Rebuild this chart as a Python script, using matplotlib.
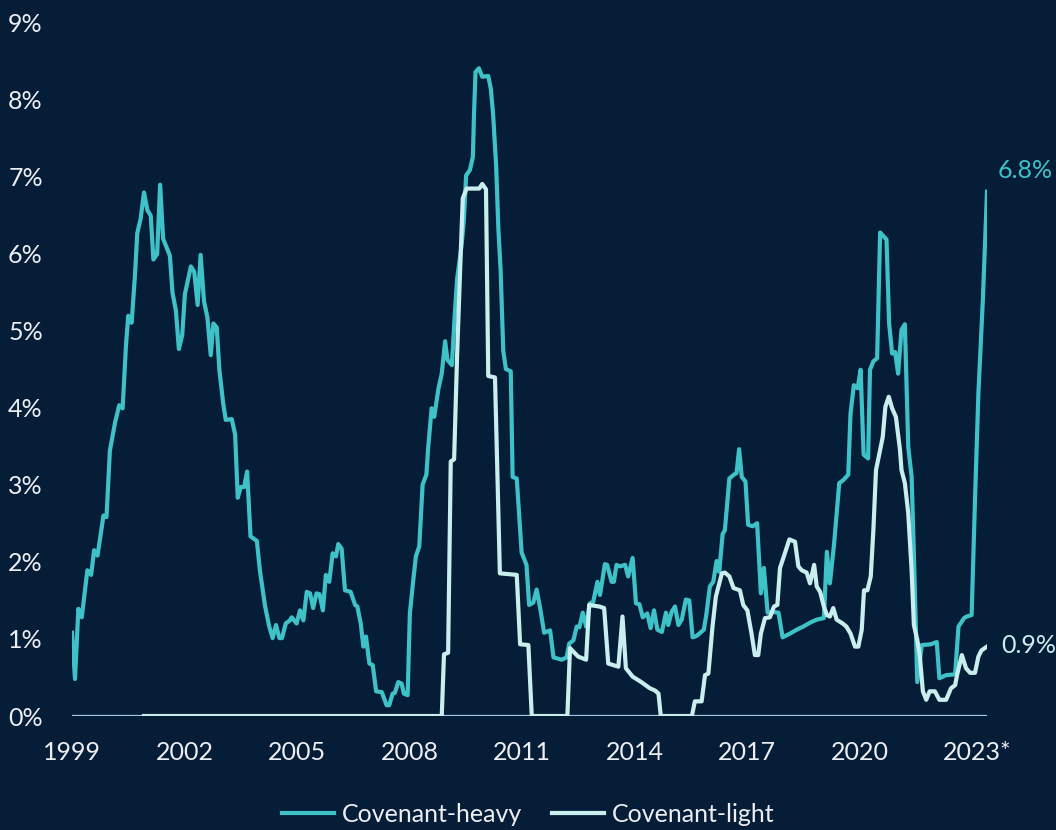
"""Default rates of covenant-heavy vs covenant-light leveraged loans, 1999-2023."""

import matplotlib

matplotlib.use("Agg")
import matplotlib.pyplot as plt
import matplotlib.transforms as mtransforms

BG = "#061d38"
HEAVY_COLOR = "#3fc1c8"
LIGHT_COLOR = "#c9eeee"
BASE_COLOR = "#a9c6e4"
TEXT_COLOR = "#eceef2"
FONT_SIZE = 18

plt.rcParams["font.family"] = ["Lato", "DejaVu Sans"]

# Covenant-heavy default rate (%), by fractional year
heavy_years = [
    1999.00, 1999.08, 1999.17, 1999.26, 1999.41, 1999.51, 1999.59, 1999.68,
    1999.84, 1999.92, 2000.01, 2000.15, 2000.26, 2000.35, 2000.44, 2000.50,
    2000.59, 2000.68, 2000.74, 2000.83, 2000.92, 2001.01, 2001.10, 2001.17,
    2001.27, 2001.35, 2001.43, 2001.61, 2001.68, 2001.77, 2001.85, 2001.94,
    2002.01, 2002.17, 2002.26, 2002.35, 2002.43, 2002.52, 2002.61, 2002.70,
    2002.77, 2002.86, 2002.93, 2003.03, 2003.10, 2003.26, 2003.35, 2003.42,
    2003.50, 2003.59, 2003.67, 2003.76, 2003.93, 2004.01, 2004.15, 2004.26,
    2004.35, 2004.44, 2004.53, 2004.60, 2004.70, 2004.81, 2004.86, 2004.99,
    2005.08, 2005.17, 2005.26, 2005.35, 2005.43, 2005.52, 2005.60, 2005.69,
    2005.77, 2005.86, 2005.95, 2006.04, 2006.10, 2006.19, 2006.28, 2006.43,
    2006.55, 2006.61, 2006.70, 2006.77, 2006.84, 2006.93, 2007.02, 2007.11,
    2007.26, 2007.39, 2007.46, 2007.55, 2007.61, 2007.70, 2007.79, 2007.85,
    2007.95, 2008.01, 2008.10, 2008.17, 2008.26, 2008.35, 2008.45, 2008.50,
    2008.59, 2008.66, 2008.77, 2008.86, 2008.95, 2009.01, 2009.13, 2009.21,
    2009.27, 2009.39, 2009.45, 2009.51, 2009.61, 2009.69, 2009.72, 2009.76,
    2009.85, 2009.94, 2010.10, 2010.17, 2010.23, 2010.31, 2010.37, 2010.43,
    2010.50, 2010.57, 2010.70, 2010.75, 2010.86, 2010.99, 2011.12, 2011.19,
    2011.30, 2011.39, 2011.48, 2011.59, 2011.75, 2011.84, 2012.06, 2012.19,
    2012.26, 2012.37, 2012.46, 2012.53, 2012.62, 2012.71, 2012.81, 2012.90,
    2013.01, 2013.08, 2013.21, 2013.27, 2013.39, 2013.45, 2013.52, 2013.61,
    2013.75, 2013.83, 2013.95, 2014.04, 2014.13, 2014.22, 2014.34, 2014.43,
    2014.52, 2014.61, 2014.73, 2014.84, 2014.90, 2014.99, 2015.08, 2015.17,
    2015.26, 2015.37, 2015.46, 2015.55, 2015.66, 2015.85, 2015.92, 2016.01,
    2016.10, 2016.19, 2016.26, 2016.35, 2016.41, 2016.53, 2016.65, 2016.72,
    2016.79, 2016.86, 2016.96, 2017.03, 2017.15, 2017.27, 2017.37, 2017.45,
    2017.55, 2017.66, 2017.84, 2017.95, 2018.15, 2018.33, 2018.50, 2018.68,
    2018.86, 2019.05, 2019.13, 2019.21, 2019.32, 2019.46, 2019.57, 2019.70,
    2019.76, 2019.85, 2019.95, 2020.03, 2020.11, 2020.23, 2020.28, 2020.37,
    2020.47, 2020.55, 2020.72, 2020.79, 2020.87, 2020.95, 2021.03, 2021.12,
    2021.21, 2021.30, 2021.39, 2021.45, 2021.54, 2021.66, 2021.90, 2022.06,
    2022.13, 2022.31, 2022.55, 2022.64, 2022.79, 2022.86, 2022.99, 2023.08,
    2023.17, 2023.29, 2023.40,
]
heavy_rates = [
    1.08, 0.48, 1.39, 1.28, 1.89, 1.83, 2.15, 2.08,
    2.60, 2.58, 3.44, 3.81, 4.03, 3.99, 4.81, 5.19,
    5.10, 5.72, 6.26, 6.45, 6.79, 6.56, 6.49, 5.92,
    5.99, 6.89, 6.19, 5.97, 5.49, 5.26, 4.76, 4.94,
    5.47, 5.83, 5.76, 5.33, 5.98, 5.38, 5.17, 4.68,
    5.09, 5.04, 4.49, 4.06, 3.84, 3.85, 3.65, 2.83,
    2.97, 2.97, 3.17, 2.33, 2.27, 1.89, 1.42, 1.16,
    1.01, 1.18, 1.01, 1.01, 1.20, 1.24, 1.28, 1.20,
    1.37, 1.24, 1.61, 1.59, 1.40, 1.59, 1.58, 1.37,
    1.83, 1.74, 2.11, 2.07, 2.23, 2.17, 1.63, 1.61,
    1.44, 1.42, 1.20, 0.90, 1.03, 0.68, 0.66, 0.32,
    0.31, 0.14, 0.14, 0.29, 0.30, 0.44, 0.42, 0.29,
    0.27, 1.33, 1.76, 2.07, 2.20, 3.00, 3.13, 3.49,
    3.99, 3.88, 4.24, 4.44, 4.86, 4.62, 4.55, 5.23,
    5.67, 6.11, 6.43, 7.01, 7.08, 7.25, 7.80, 8.35,
    8.40, 8.29, 8.30, 8.13, 7.80, 7.14, 6.32, 5.78,
    4.74, 4.50, 4.47, 3.10, 3.08, 2.12, 1.96, 1.44,
    1.47, 1.64, 1.41, 1.08, 1.11, 0.76, 0.73, 0.76,
    0.94, 0.98, 1.16, 1.15, 1.34, 1.16, 1.46, 1.48,
    1.74, 1.57, 1.97, 1.96, 1.74, 1.74, 1.96, 1.94,
    1.96, 1.81, 2.05, 1.46, 1.45, 1.28, 1.33, 1.14,
    1.37, 1.12, 1.09, 1.34, 1.18, 1.35, 1.42, 1.18,
    1.25, 1.51, 1.50, 1.02, 1.04, 1.12, 1.33, 1.68,
    1.74, 2.01, 1.87, 2.36, 2.41, 3.08, 3.13, 3.15,
    3.46, 3.10, 3.04, 2.48, 2.46, 2.50, 1.59, 1.92,
    1.34, 1.35, 1.34, 1.02, 1.07, 1.12, 1.16, 1.21,
    1.25, 1.27, 2.13, 1.72, 2.22, 3.02, 3.06, 3.13,
    3.92, 4.29, 4.25, 4.49, 3.39, 3.34, 4.49, 4.60,
    4.64, 6.27, 6.18, 5.09, 4.70, 4.72, 4.44, 5.01,
    5.08, 3.49, 3.10, 2.11, 0.44, 0.92, 0.93, 0.96,
    0.49, 0.53, 0.54, 1.16, 1.27, 1.29, 1.31, 2.80,
    4.18, 5.40, 6.8,
]

# Covenant-light default rate (%), series begins late 2000
light_years = [
    2000.92, 2008.86, 2008.92, 2009.03, 2009.10, 2009.19, 2009.27, 2009.35,
    2009.42, 2009.52, 2009.86, 2009.94, 2010.04, 2010.10, 2010.28, 2010.41,
    2010.86, 2010.95, 2011.17, 2011.26, 2012.21, 2012.28, 2012.50, 2012.71,
    2012.79, 2013.06, 2013.19, 2013.30, 2013.57, 2013.68, 2013.77, 2013.95,
    2014.15, 2014.41, 2014.55, 2014.64, 2014.70, 2015.53, 2015.61, 2015.79,
    2015.88, 2015.97, 2016.08, 2016.17, 2016.33, 2016.41, 2016.53, 2016.64,
    2016.81, 2016.90, 2017.01, 2017.12, 2017.21, 2017.30, 2017.37, 2017.48,
    2017.61, 2017.72, 2017.81, 2017.88, 2018.01, 2018.13, 2018.28, 2018.37,
    2018.46, 2018.59, 2018.68, 2018.79, 2018.86, 2018.95, 2019.05, 2019.13,
    2019.21, 2019.30, 2019.39, 2019.55, 2019.65, 2019.76, 2019.88, 2019.97,
    2020.06, 2020.12, 2020.21, 2020.30, 2020.37, 2020.44, 2020.55, 2020.62,
    2020.69, 2020.78, 2020.87, 2020.97, 2021.08, 2021.12, 2021.21, 2021.30,
    2021.39, 2021.45, 2021.54, 2021.61, 2021.69, 2021.78, 2021.87, 2022.01,
    2022.13, 2022.31, 2022.44, 2022.55, 2022.61, 2022.73, 2022.84, 2022.95,
    2023.08, 2023.17, 2023.25, 2023.40,
]
light_rates = [
    0.00, 0.00, 0.80, 0.82, 3.30, 3.33, 4.69, 5.78,
    6.71, 6.84, 6.84, 6.90, 6.83, 4.41, 4.39, 1.85,
    1.83, 0.93, 0.92, 0.00, 0.00, 0.88, 0.77, 0.73,
    1.44, 1.42, 1.40, 0.68, 0.64, 1.29, 0.62, 0.51,
    0.45, 0.36, 0.33, 0.29, 0.00, 0.00, 0.19, 0.19,
    0.53, 0.55, 1.16, 1.55, 1.85, 1.86, 1.81, 1.66,
    1.63, 1.44, 1.37, 1.07, 0.79, 0.79, 1.07, 1.27,
    1.28, 1.42, 1.44, 1.92, 2.11, 2.29, 2.26, 1.94,
    1.89, 1.86, 1.72, 1.96, 1.68, 1.61, 1.42, 1.31,
    1.29, 1.40, 1.25, 1.20, 1.16, 1.07, 0.90, 0.90,
    1.12, 1.63, 1.63, 1.81, 2.41, 3.19, 3.45, 3.62,
    4.01, 4.14, 3.99, 3.88, 3.45, 3.19, 3.02, 2.63,
    1.89, 1.18, 0.99, 0.77, 0.32, 0.21, 0.32, 0.32,
    0.21, 0.21, 0.36, 0.40, 0.55, 0.79, 0.62, 0.56,
    0.56, 0.77, 0.85, 0.9,
]

x_ticks = [1999, 2002, 2005, 2008, 2011, 2014, 2017, 2020, 2023]
x_tick_labels = ["1999", "2002", "2005", "2008", "2011", "2014", "2017", "2020", "2023*"]
y_ticks = list(range(10))

fig = plt.figure(figsize=(10.56, 8.30), dpi=100, facecolor=BG)
ax = fig.add_axes([72 / 1056, 114 / 830, 915 / 1056, 694 / 830], facecolor=BG)

ax.axhline(0, color=BASE_COLOR, lw=1.6, zorder=1)
ax.plot(heavy_years, heavy_rates, color=HEAVY_COLOR, lw=3.0,
        solid_joinstyle="round", label="Covenant-heavy", zorder=2)
ax.plot(light_years, light_rates, color=LIGHT_COLOR, lw=3.0,
        solid_joinstyle="round", label="Covenant-light", zorder=3)

ax.set_xlim(1999, heavy_years[-1])
ax.set_ylim(0, 9)
ax.set_xticks(x_ticks)
ax.set_xticklabels(x_tick_labels)
ax.set_yticks(y_ticks)
ax.set_yticklabels([f"{v}%" for v in y_ticks])
ax.tick_params(length=0, labelsize=FONT_SIZE, colors=TEXT_COLOR)
ax.tick_params(axis="y", pad=21)
ax.tick_params(axis="x", pad=18)
for spine in ax.spines.values():
    spine.set_visible(False)

# keep the year centred on its tick, the footnote star hangs to the right
star_label = ax.get_xticklabels()[-1]
star_label.set_transform(star_label.get_transform()
                         + mtransforms.ScaledTranslation(4 / 72, 0, fig.dpi_scale_trans))

# end-of-series value labels
ax.annotate(f"{heavy_rates[-1]:.1f}%", (heavy_years[-1], heavy_rates[-1]),
            xytext=(8, 15), textcoords="offset points",
            color=HEAVY_COLOR, fontsize=FONT_SIZE, va="center", ha="left",
            annotation_clip=False)
ax.annotate(f"{light_rates[-1]:.1f}%", (light_years[-1], light_rates[-1]),
            xytext=(10, 1), textcoords="offset points",
            color=LIGHT_COLOR, fontsize=FONT_SIZE, va="center", ha="left",
            annotation_clip=False)

fig.legend(loc="lower center", bbox_to_anchor=(0.5, -0.022), ncol=2,
           frameon=False, fontsize=FONT_SIZE, labelcolor=TEXT_COLOR,
           handlelength=2.1, handletextpad=0.3, columnspacing=1.2)

fig.savefig("out.png", dpi=100, facecolor=BG)
